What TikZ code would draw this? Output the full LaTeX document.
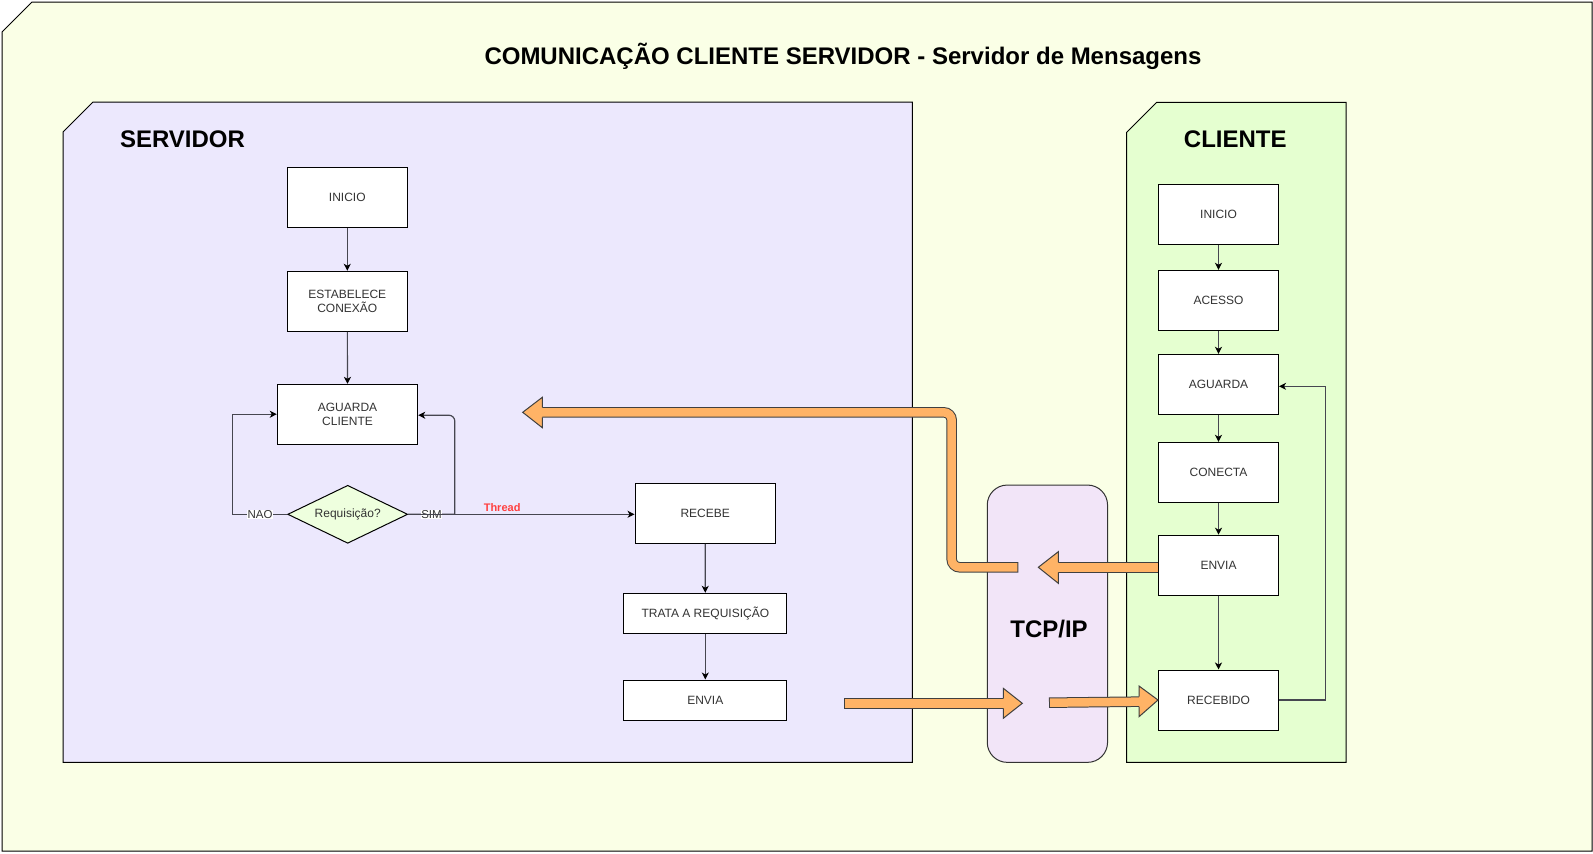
\documentclass[tikz,border=0pt]{standalone}
\usepackage{fontspec}
\setmainfont{Liberation Sans}
\usetikzlibrary{arrows.meta,shapes.geometric}
\definecolor{bgyellow}{RGB}{250,255,230}
\definecolor{srvfill}{RGB}{236,232,253}
\definecolor{clifill}{RGB}{229,255,208}
\definecolor{diafill}{RGB}{238,255,222}
\definecolor{tcpfill}{RGB}{242,229,248}
\definecolor{orangef}{RGB}{255,179,102}
\definecolor{edgegray}{RGB}{70,70,80}
\definecolor{txtgray}{RGB}{51,51,51}
\definecolor{threadred}{RGB}{255,64,64}
\begin{document}
\begin{tikzpicture}[x=1pt,y=-1pt,
  container/.style={draw=black,line width=1pt},
  box/.style={draw=black,fill=white,line width=1pt,minimum width=120pt,minimum height=60pt,
    inner sep=0pt,align=center,font=\fontsize{12}{14}\selectfont,text=txtgray},
  conn/.style={draw=edgegray,line width=1.2pt,-{Stealth[length=7pt,width=7pt,inset=2pt,color=black]}},
  lbl/.style={fill=white,inner sep=0.5pt,font=\fontsize{11.5}{13}\selectfont,text=txtgray},
  bigtitle/.style={font=\fontsize{24}{28}\selectfont\bfseries,text=black},
  shaftout/.style={draw=black!75,line width=10.5pt},
  shaftin/.style={draw=orangef,line width=8.5pt},
  head/.style={fill=orangef,draw=black!75,line width=1pt,line join=miter}
]
\useasboundingbox (0,0) rectangle (1593,854);
% outer frame
\draw[container,fill=bgyellow] (32,2) -- (1592,2) -- (1592,851) -- (2,851) -- (2,32) -- cycle;
\node[font=\fontsize{24}{28}\selectfont\bfseries] (title) at (843,56) {COMUNICAÇÃO CLIENTE SERVIDOR - Servidor de Mensagens};
% servidor container
\draw[container,fill=srvfill] (93,102) -- (912.3,102) -- (912.3,762.3) -- (63,762.3) -- (63,132) -- cycle;
\node[bigtitle] (srvt) at (182.5,139) {SERVIDOR};
% cliente container
\draw[container,fill=clifill] (1156.7,102.3) -- (1346,102.3) -- (1346,762.3) -- (1126.7,762.3) -- (1126.7,132.3) -- cycle;
\node[bigtitle] (clit) at (1235.3,139) {CLIENTE};
% tcp box
\node[draw=black!80,line width=1pt,fill=tcpfill,rounded corners=20pt,minimum width=120.3pt,minimum height=277.3pt,inner sep=0pt] (tcp) at (1047.4,623.7) {};
\node[bigtitle] (tcpt) at (1049,629) {TCP/IP};

% servidor flow
\node[box] (sini) at (347.3,197.3) {INICIO};
\node[box] (sest) at (347.3,301.3) {ESTABELECE\\CONEXÃO};
\node[box,minimum width=140.4pt,minimum height=59.7pt] (sagu) at (347.5,414.2) {AGUARDA\\CLIENTE};
\node[diamond,draw=black,line width=1pt,fill=diafill,minimum width=120pt,minimum height=58pt,aspect=2.07,inner sep=0pt,
  font=\fontsize{12}{14}\selectfont,text=txtgray] (sdia) at (347.7,514.3) {Requisição?};
\node[box,minimum width=140.3pt] (srec) at (705.2,513.3) {RECEBE};
\node[box,minimum width=162.7pt,minimum height=40pt] (strat) at (705.3,613.3) {TRATA A REQUISIÇÃO};
\node[box,minimum width=162.7pt,minimum height=40pt] (senv) at (705.3,700) {ENVIA};

\draw[conn] (sini) -- (sest);
\draw[conn] (sest) -- (sagu);
\draw[conn] (sdia.west) -- node[lbl]{NAO} ++(-54.4,0) |- (sagu.west);
\draw[conn] (sdia.east) -- node[lbl]{SIM} ++(46.6,0) coordinate (simc) [rounded corners=6pt] -- ([yshift=-1pt]simc |- sagu.east) -- ([yshift=-1pt]sagu.east);
\draw[conn] (sdia.east) -- node[pos=0.415,above=-1pt,font=\fontsize{11}{13}\selectfont\bfseries,text=threadred]{Thread} (srec.west |- sdia.east);
\draw[conn] (srec) -- (strat);
\draw[conn] (strat) -- (senv);

% cliente flow
\node[box] (cini) at (1218.5,214.3) {INICIO};
\node[box] (cace) at (1218.5,300.3) {ACESSO};
\node[box] (cagu) at (1218.5,384.3) {AGUARDA};
\node[box] (ccon) at (1218.5,472.3) {CONECTA};
\node[box] (cenv) at (1218.5,565.2) {ENVIA};
\node[box] (crec) at (1218.5,700) {RECEBIDO};
\draw[conn] (cini) -- (cace);
\draw[conn] (cace) -- (cagu);
\draw[conn] (cagu) -- (ccon);
\draw[conn] (ccon) -- (cenv);
\draw[conn] (cenv) -- (crec);
\draw[conn] (crec.east) -- ++(46.7,0) |- ([yshift=-2pt]cagu.east);

% orange flex arrows
\coordinate (p1) at (1018.3,567.3);
\coordinate (p2) at (538,412.3);
\draw[shaftout,rounded corners=8pt] (p1) -- (951.7,567.3) -- (951.7,412.3) -- (p2);
\draw[shaftin,rounded corners=8pt] ([xshift=-1pt]p1) -- (951.7,567.3) -- (951.7,412.3) -- (p2);
\draw[head] (542.3,407.3) -- (542.3,397.3) -- (522.7,412.3) -- (542.3,427.7) -- (542.3,417.3);

% ENVIA (cliente) -> tcp
\coordinate (q1) at (1054,567.3);
\draw[shaftout] (cenv.west |- q1) -- (q1);
\draw[shaftin] ([xshift=-0.5pt]cenv.west |- q1) -- (q1);
\draw[head] (1058.3,562.3) -- (1058.3,551.7) -- (1038.3,567.3) -- (1058.3,583.3) -- (1058.3,572.3);

% servidor -> tcp
\coordinate (r1) at (844,703.3);
\coordinate (r2) at (1007,703.3);
\draw[shaftout] (r1) -- (r2);
\draw[shaftin] ([xshift=1pt]r1) -- (r2);
\draw[head] (1003.3,698.3) -- (1003.3,688.3) -- (1022.3,703.3) -- (1003.3,718.3) -- (1003.3,708.3);

% tcp -> RECEBIDO
\coordinate (s1) at (1049,702.7);
\coordinate (s2) at (1143,701.6);
\draw[shaftout] (s1) -- (s2);
\draw[shaftin] ([xshift=1pt]s1) -- (s2);
\draw[head] (1139,696.6) -- (1139,686) -- (crec.west) -- (1139,716.7) -- (1139,706.6);
\end{tikzpicture}
\end{document}
